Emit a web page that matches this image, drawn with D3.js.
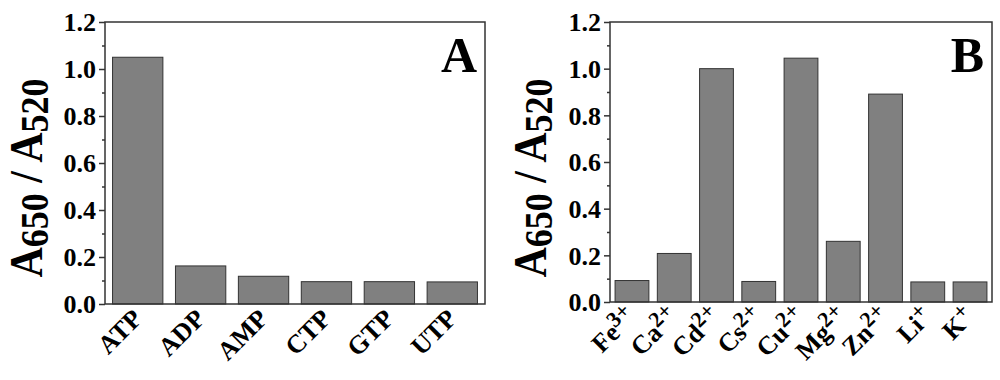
<!DOCTYPE html>
<html>
<head>
<meta charset="utf-8">
<script src="https://cdn.jsdelivr.net/npm/d3@7"></script>
<style>
  body { margin: 0; background: #fff; }
  svg text { font-family: "Liberation Serif", "Times New Roman", serif; font-weight: bold; fill: #000; }
</style>
</head>
<body>
<div id="chart"></div>
<script>
// panel A: nucleotides
const nucleotides = ["ATP", "ADP", "AMP", "CTP", "GTP", "UTP"];
const ratioA = [1.05, 0.162, 0.118, 0.095, 0.095, 0.094];

// panel B: metal ions (symbol + charge as superscript)
const ions = ["Fe", "Ca", "Cd", "Cs", "Cu", "Mg", "Zn", "Li", "K"];
const charges = ["3+", "2+", "2+", "2+", "2+", "2+", "2+", "+", "+"];
const ratioB = [0.092, 0.208, 1.0, 0.088, 1.045, 0.26, 0.891, 0.086, 0.086];

const yMajor = [0, 0.2, 0.4, 0.6, 0.8, 1.0, 1.2];
const yMinor = [0.1, 0.3, 0.5, 0.7, 0.9, 1.1];

const svg = d3.select("#chart").append("svg")
  .attr("width", 1000)
  .attr("height", 380);

// draw one panel
function drawPanel(opts) {
  const x = d3.scaleBand()
    .domain(d3.range(opts.values.length))
    .range([opts.left, opts.right])
    .paddingInner(0.2)
    .paddingOuter(0.12);

  const y = d3.scaleLinear()
    .domain([0, 1.2])
    .range([opts.bottom, opts.top]);

  const g = svg.append("g");

  // bars
  g.selectAll("rect.bar")
    .data(opts.values)
    .enter()
    .append("rect")
    .attr("class", "bar")
    .attr("x", (d, i) => x(i))
    .attr("y", d => y(d))
    .attr("width", x.bandwidth())
    .attr("height", d => y(0) - y(d))
    .attr("fill", "#808080")
    .attr("stroke", "#333")
    .attr("stroke-width", 1);

  // frame
  g.append("rect")
    .attr("x", opts.left)
    .attr("y", opts.top)
    .attr("width", opts.right - opts.left)
    .attr("height", opts.bottom - opts.top)
    .attr("fill", "none")
    .attr("stroke", "#333")
    .attr("stroke-width", 1.5);

  // y axis major ticks
  const yAxis = g.append("g")
    .attr("transform", "translate(" + opts.left + ",0)")
    .call(d3.axisLeft(y).tickValues(yMajor).tickSize(6).tickPadding(3)
      .tickFormat(d3.format(".1f")));
  yAxis.select(".domain").remove();
  yAxis.selectAll("line").attr("stroke", "#333").attr("stroke-width", 1.5);
  yAxis.selectAll("text")
    .style("font-size", "26px")
    .attr("dy", "0.34em");

  // y axis minor ticks
  const yAxisMinor = g.append("g")
    .attr("transform", "translate(" + opts.left + ",0)")
    .call(d3.axisLeft(y).tickValues(yMinor).tickSize(3).tickFormat(""));
  yAxisMinor.select(".domain").remove();
  yAxisMinor.selectAll("line").attr("stroke", "#333").attr("stroke-width", 1.5);

  // x category labels, rotated 45 degrees
  g.selectAll("text.xlab")
    .data(opts.labels)
    .enter()
    .append("text")
    .attr("class", "xlab")
    .attr("text-anchor", "end")
    .style("font-size", "26px")
    .attr("x", (d, i) => x(i) + x.bandwidth() / 2 + opts.labelDx)
    .attr("y", opts.bottom + opts.labelDy)
    .attr("transform", (d, i) => "rotate(-45," + (x(i) + x.bandwidth() / 2 + opts.labelDx) + "," + (opts.bottom + opts.labelDy) + ")")
    .each(function(d, i) {
      const t = d3.select(this);
      t.append("tspan").text(d);
      if (opts.supers) {
        t.append("tspan")
          .attr("dy", "-0.4em")
          .style("font-size", "22px")
          .text(opts.supers[i]);
      }
    });

  // y label A650 / A520 with subscripts
  const lab = g.append("text")
    .attr("transform", "translate(" + opts.labelX + "," + opts.labelY + ") rotate(-90) scale(1,1.12)")
    .attr("text-anchor", "middle")
    .style("font-size", "42px");
  lab.append("tspan").text("A");
  lab.append("tspan").attr("dy", 5).style("font-size", "36px").text("650");
  lab.append("tspan").attr("dy", -5).text(" / A");
  lab.append("tspan").attr("dy", 5).style("font-size", "36px").text("520");

  // panel letter
  g.append("text")
    .attr("x", opts.right - 8)
    .attr("y", opts.top + 50)
    .attr("text-anchor", "end")
    .style("font-size", "50px")
    .text(opts.letter);
}

drawPanel({
  values: ratioA, labels: nucleotides, supers: null,
  left: 105, right: 485, top: 22, bottom: 304,
  labelX: 42, labelY: 178, labelDx: 6, labelDy: 16, letter: "A"
});

drawPanel({
  values: ratioB, labels: ions, supers: charges,
  left: 610, right: 992, top: 22, bottom: 302,
  labelX: 546, labelY: 178, labelDx: 6, labelDy: 16, letter: "B"
});
</script>
</body>
</html>
